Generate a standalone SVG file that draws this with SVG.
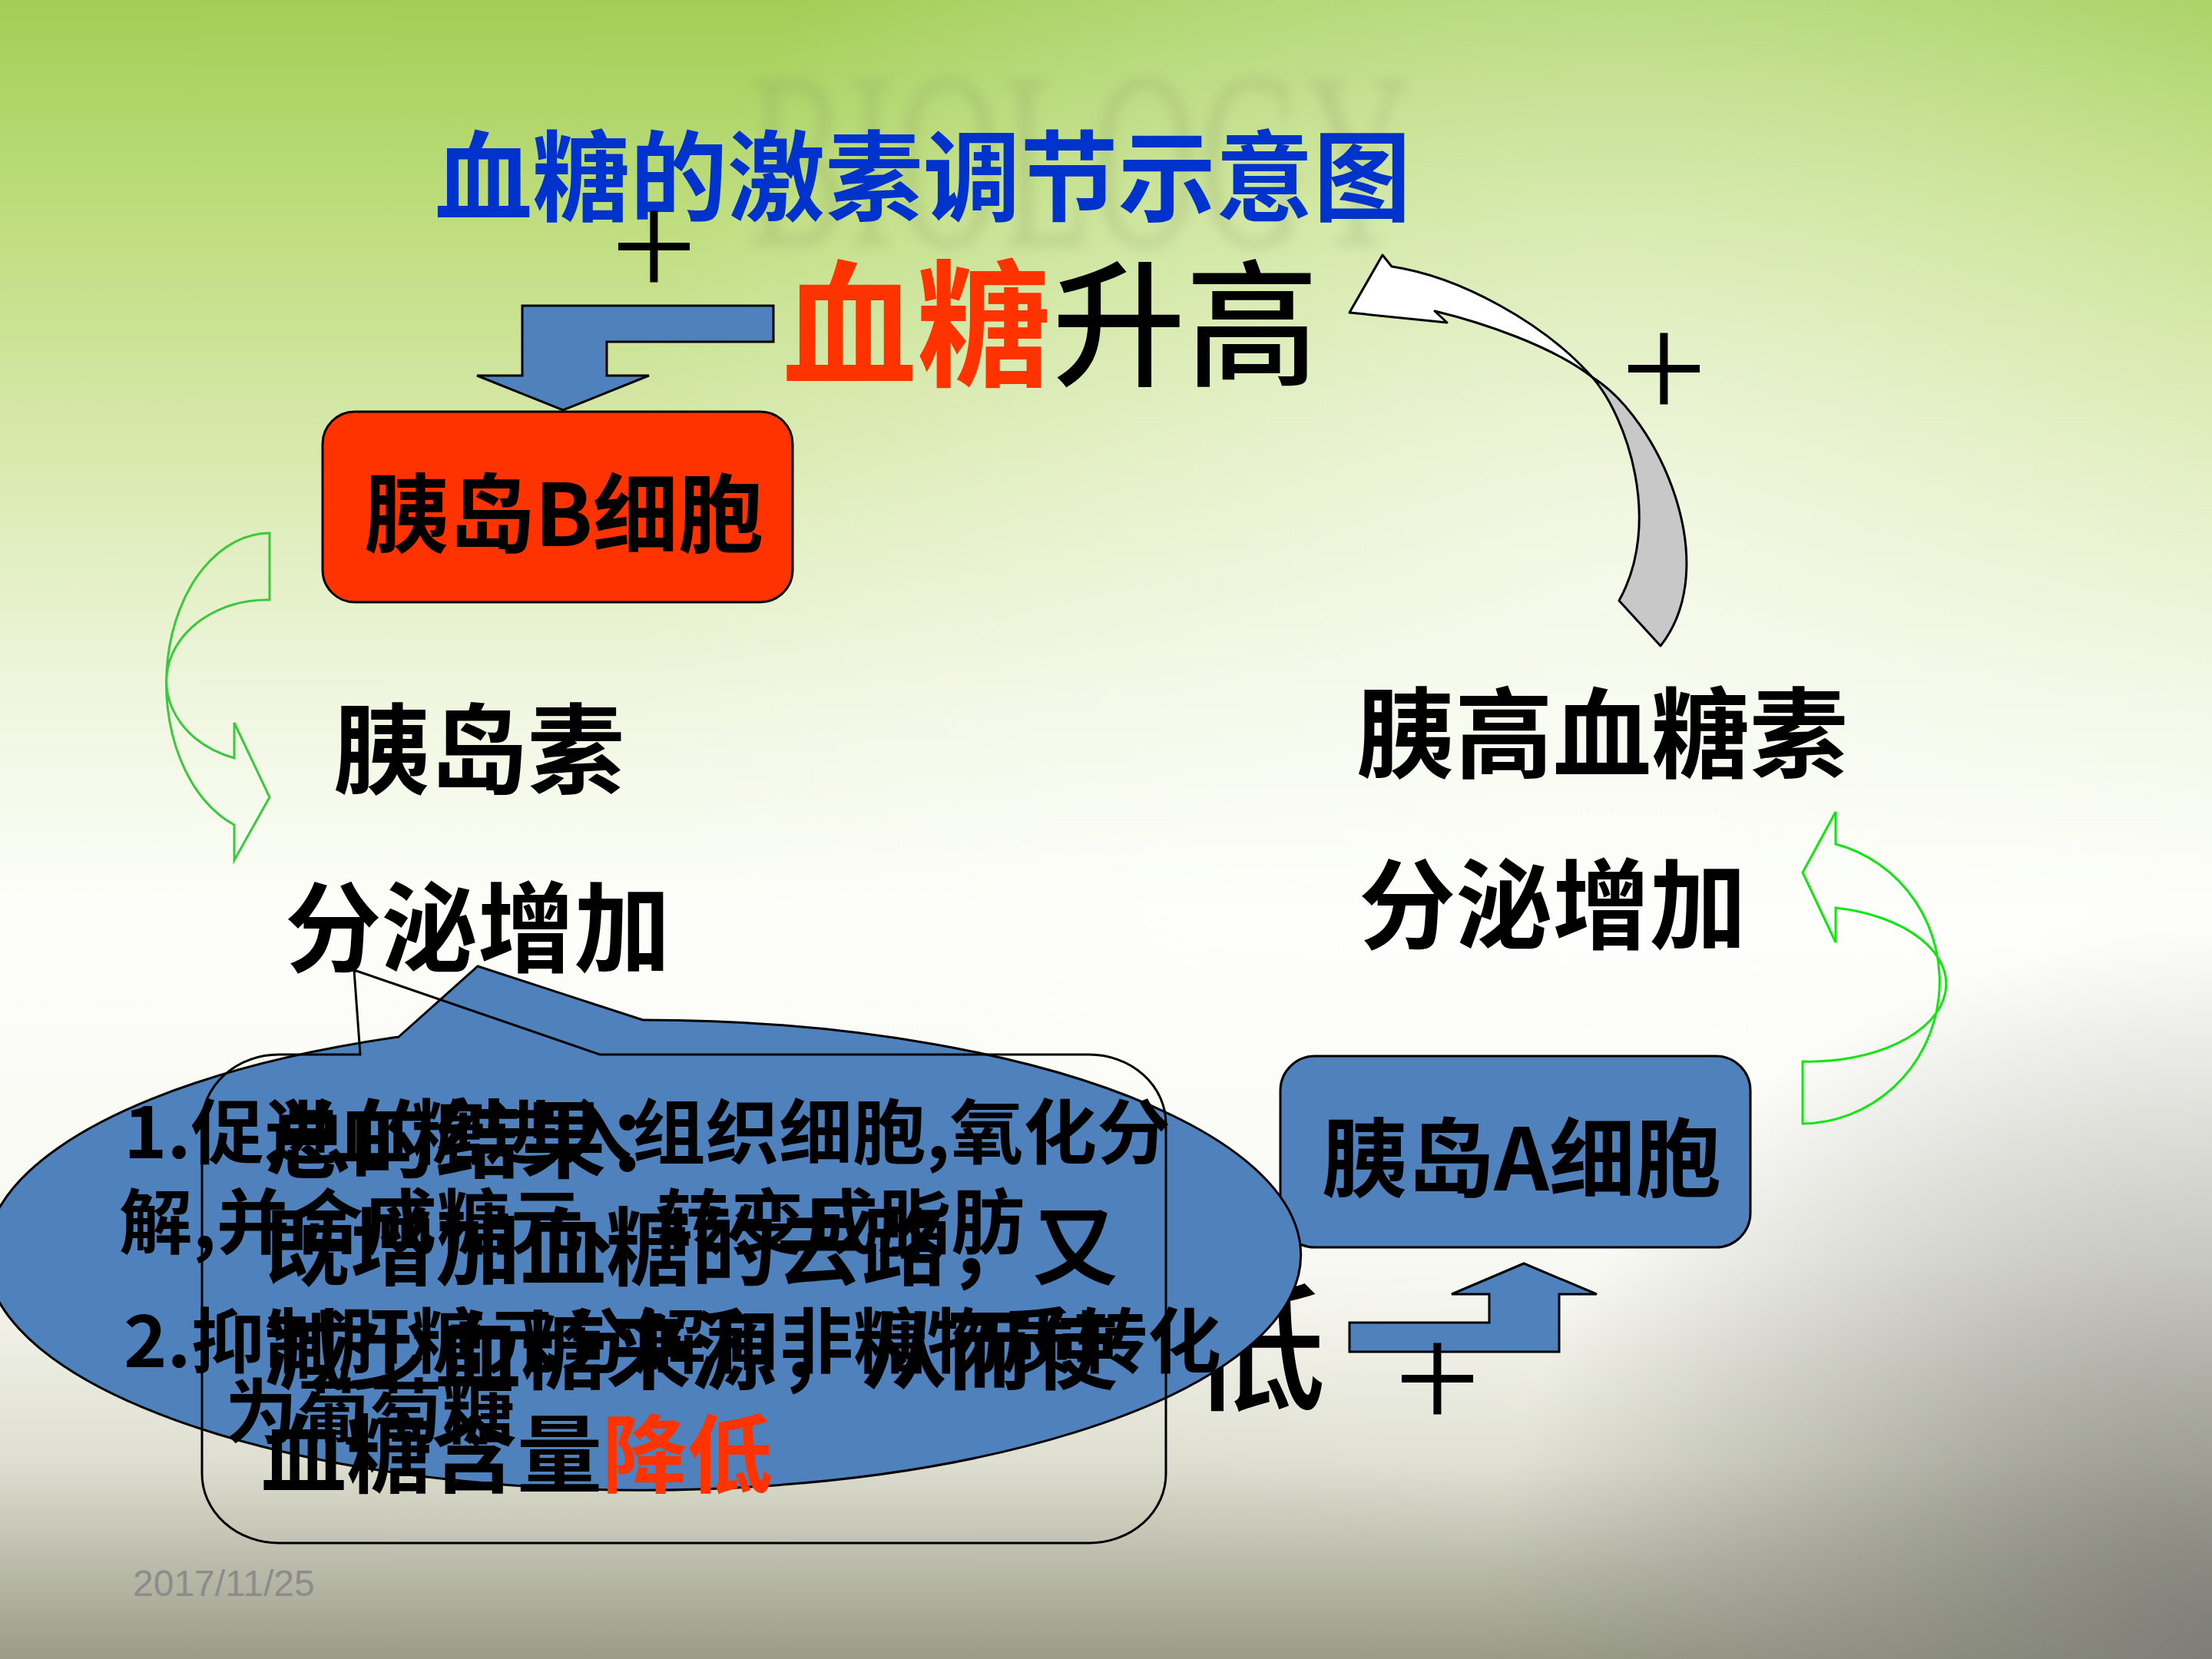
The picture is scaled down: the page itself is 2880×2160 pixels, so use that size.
<svg xmlns="http://www.w3.org/2000/svg" width="2880" height="2160" viewBox="0 0 2880 2160">
<defs>
<linearGradient id="bg" x1="0" y1="0" x2="0" y2="1">
<stop offset="0" stop-color="#a2ce56"/>
<stop offset="0.12" stop-color="#bcdc7a"/>
<stop offset="0.27" stop-color="#d8e9ac"/>
<stop offset="0.42" stop-color="#eff6df"/>
<stop offset="0.55" stop-color="#fdfefa"/>
<stop offset="0.76" stop-color="#f8f8f2"/>
<stop offset="0.88" stop-color="#dedfd0"/>
<stop offset="1" stop-color="#9a9c88"/>
</linearGradient>
<radialGradient id="hl" cx="2100" cy="750" r="1300" gradientUnits="userSpaceOnUse">
<stop offset="0" stop-color="#ffffff" stop-opacity="0.6"/>
<stop offset="1" stop-color="#ffffff" stop-opacity="0"/>
</radialGradient>
<radialGradient id="br" cx="2880" cy="2160" r="950" gradientUnits="userSpaceOnUse">
<stop offset="0" stop-color="#7a7a74" stop-opacity="0.9"/>
<stop offset="1" stop-color="#8a8a82" stop-opacity="0"/>
</radialGradient>
<filter id="blur" x="-10%" y="-10%" width="120%" height="120%"><feGaussianBlur stdDeviation="8"/></filter>
<style>
.cjk{font-family:"Noto Sans CJK SC","Noto Sans CJK JP",sans-serif;}
.b{font-weight:bold;}
.lab{fill:#000;font-weight:bold;}
.plus{font-family:"Liberation Serif",serif;font-size:200px;fill:#000;}
.blue{fill:#4f81bd;stroke:#000;stroke-width:3;}
.ln{stroke:#000;stroke-width:3;stroke-linejoin:round;}
.grn{fill:none;stroke-width:3;stroke-linejoin:miter;}
</style>
</defs>

<g id="background">
<rect x="0" y="0" width="2880" height="2160" fill="url(#bg)"/>
<rect x="0" y="0" width="2880" height="2160" fill="url(#hl)"/>
<rect x="0" y="0" width="2880" height="2160" fill="url(#br)"/>
<text x="974" y="320" font-family="Liberation Serif,serif" font-size="330" textLength="863" lengthAdjust="spacingAndGlyphs" fill="#7d8d5a" opacity="0.2" filter="url(#blur)">BIOLOGY</text>
</g>

<g id="title">
<text class="cjk b" x="566" y="278" font-size="128" fill="#0033cc" textLength="1271" lengthAdjust="spacingAndGlyphs">血糖的激素调节示意图</text>
</g>

<g id="node-blood-sugar-high">
<text class="cjk b" x="1019" y="489" font-size="178" fill="#ff3300" textLength="349" lengthAdjust="spacingAndGlyphs">血糖</text>
<text class="cjk" x="1370" y="489" font-size="178" fill="#000" font-weight="500" textLength="347" lengthAdjust="spacingAndGlyphs">升高</text>
</g>

<g id="node-b-cell">
<rect x="420" y="536" width="612" height="248" rx="42" fill="#ff3300" stroke="#000" stroke-width="3"/>
<text class="cjk lab" x="474" y="711" font-size="112" textLength="520" lengthAdjust="spacingAndGlyphs">胰岛B细胞</text>
</g>

<g id="node-insulin">
<text class="cjk lab" x="434" y="1024" font-size="128" textLength="379" lengthAdjust="spacingAndGlyphs">胰岛素</text>
<text class="cjk lab" x="371" y="1256" font-size="128" textLength="502" lengthAdjust="spacingAndGlyphs">分泌增加</text>
</g>

<g id="node-glucagon">
<text class="cjk lab" x="1766" y="1003" font-size="128" textLength="640" lengthAdjust="spacingAndGlyphs">胰高血糖素</text>
<text class="cjk lab" x="1769" y="1226" font-size="128" textLength="505" lengthAdjust="spacingAndGlyphs">分泌增加</text>
</g>

<g id="node-a-cell">
<rect x="1667" y="1375" width="612" height="249" rx="45" class="blue"/>
<text class="cjk lab" x="1721" y="1550" font-size="112" textLength="520" lengthAdjust="spacingAndGlyphs">胰岛A细胞</text>
</g>

<g id="node-blood-sugar-low">
<text class="cjk" x="1548" y="1822" font-size="178" fill="#000" font-weight="500">低</text>
</g>

<g id="connectors">
<polygon class="blue" points="1007,398 680,398 680,489 621,489 733,534 845,489 790,489 790,445 1007,445"/>
<polygon class="blue" points="1757,1722 1939,1722 1939,1685 1890,1685 1984,1645 2079,1685 2030,1685 2030,1760 1757,1760"/>
<path d="M2073,491 C2118,542 2165,680 2108,782 L2162,841 C2245,735 2160,545 2073,491 Z" fill="#c8c8c8" class="ln"/>
<path d="M1868,405 L1884,420 L1757,407 L1800,332 L1812,347 C1900,360 2010,420 2073,491 C2020,450 1930,420 1868,405 Z" fill="#ffffff" class="ln"/>
<path class="grn" stroke="#3cc83c" d="M351,694 A135 196 0 0 0 305,1074 L305,1120 L351,1038 L305,941 L305,987 A132 106 0 0 1 351,781 Z"/>
<path class="grn" stroke="#11e611" d="M2347,1463 A181 185 0 0 0 2390,1099 L2390,1057 L2347,1136 L2390,1227 L2390,1182 A178 101 0 0 1 2347,1382 Z"/>
<text class="plus" x="795" y="387">+</text>
<text class="plus" x="2110" y="546">+</text>
<text class="plus" x="1815" y="1861">+</text>
</g>

<g id="node-insulin-effects">
<path class="blue" d="M519,1350 L622,1258 L837,1328 A856 306 0 1 1 519,1350 Z"/>
<text class="cjk lab" x="161" y="1508" font-size="92" textLength="1363" lengthAdjust="spacingAndGlyphs">1.促进血糖进入组织细胞,氧化分</text>
<text class="cjk lab" x="155" y="1625" font-size="92" textLength="1179" lengthAdjust="spacingAndGlyphs">解,并合成糖元、转变成脂肪</text>
<text class="cjk lab" x="161" y="1780" font-size="92" textLength="1429" lengthAdjust="spacingAndGlyphs">2.抑制肝糖元分解和非糖物质转化</text>
<text class="cjk lab" x="293" y="1872" font-size="92" textLength="377" lengthAdjust="spacingAndGlyphs">为葡萄糖</text>
</g>

<g id="node-overall-result">
<path fill="none" stroke="#000" stroke-width="3" d="M363,1373 L469,1373 L461,1263 L781,1373 L1418,1373 A100 90 0 0 1 1518,1463 L1518,1919 A100 90 0 0 1 1418,2009 L363,2009 A100 90 0 0 1 263,1919 L263,1463 A100 90 0 0 1 363,1373 Z"/>
<text class="cjk lab" x="345" y="1525" font-size="111" textLength="555" lengthAdjust="spacingAndGlyphs">总的结果：</text>
<text class="cjk lab" x="345" y="1665" font-size="111" textLength="1110" lengthAdjust="spacingAndGlyphs">既增加血糖的去路，又</text>
<text class="cjk lab" x="345" y="1800" font-size="111" textLength="1110" lengthAdjust="spacingAndGlyphs">减少血糖来源，从而使</text>
<text class="cjk lab" x="340" y="1935" font-size="111" textLength="444" lengthAdjust="spacingAndGlyphs">血糖含量</text>
<text class="cjk" x="784" y="1935" font-size="111" fill="#ff3300" font-weight="bold" textLength="222" lengthAdjust="spacingAndGlyphs">降低</text>
</g>

<g id="footer">
<text x="173" y="2078" font-family="Liberation Sans,sans-serif" font-size="48" fill="#8c8c8c">2017/11/25</text>
</g>
</svg>
